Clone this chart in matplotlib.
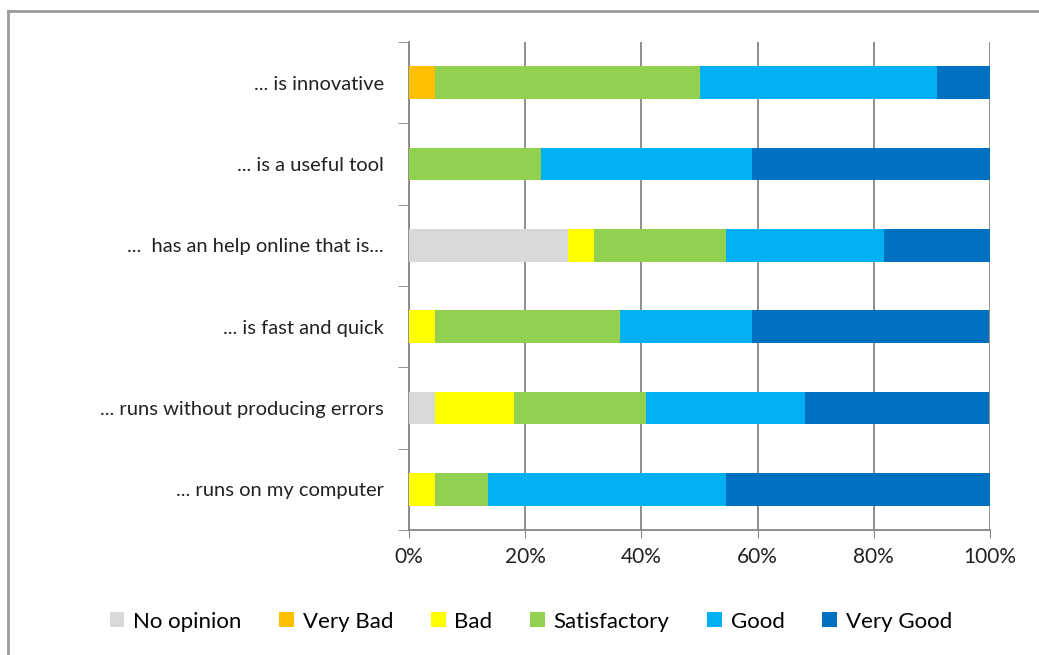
import matplotlib.pyplot as plt
import numpy as np

plt.rcParams['font.family'] = ['Lato', 'DejaVu Sans']

statements = ['... runs on my computer', '... runs without producing errors',
              '... is fast and quick', '...  has an help online that is...',
              '... is a useful tool', '... is innovative']
levels = ['No opinion', 'Very Bad', 'Bad', 'Satisfactory', 'Good', 'Very Good']
colors = ['#D9D9D9', '#FFC000', '#FFFF00', '#92D050', '#00B0F0', '#0070C0']

# share of answers (%) per level, rows in the same order as statements
no_opinion   = [0.0, 4.5, 0.0, 27.3, 0.0, 0.0]
very_bad     = [0.0, 0.0, 0.0, 0.0, 0.0, 4.5]
bad          = [4.5, 13.6, 4.5, 4.5, 0.0, 0.0]
satisfactory = [9.1, 22.7, 31.8, 22.7, 22.7, 45.5]
good         = [40.9, 27.3, 22.7, 27.3, 36.4, 40.9]
very_good    = [45.5, 31.8, 40.9, 18.2, 40.9, 9.1]
series = [no_opinion, very_bad, bad, satisfactory, good, very_good]

fig = plt.figure(figsize=(10.39, 6.55), dpi=100)
ax = fig.add_axes([0.3937, 0.1908, 0.5592, 0.7451])

y = np.arange(len(statements))
left = np.zeros(len(statements))
for name, vals, c in zip(levels, series, colors):
    vals = np.array(vals)
    ax.barh(y, vals, left=left, height=0.4, color=c, label=name, zorder=3)
    left += vals

ax.set_xlim(0, 100)
ax.set_ylim(-0.5, len(statements) - 0.5)
ax.set_xticks(np.arange(0, 101, 20))
ax.set_xticklabels([f'{v}%' for v in range(0, 101, 20)], fontsize=15, color='#222222')
ax.set_yticks(y)
ax.set_yticklabels(statements, fontsize=14.5, color='#222222')
ax.tick_params(axis='y', length=0, pad=18)
ax.tick_params(axis='x', length=6, color='#868686', pad=6)
# category separators on the value axis
ax.set_yticks(np.arange(-0.5, len(statements)), minor=True)
ax.tick_params(axis='y', which='minor', length=8, color='#868686')
ax.grid(axis='x', color='#868686', linewidth=1.3, zorder=0)

for s in ['top', 'right']:
    ax.spines[s].set_visible(False)
for s in ['left', 'bottom']:
    ax.spines[s].set_color('#868686')
    ax.spines[s].set_linewidth(1.3)

fig.legend(loc='center', bbox_to_anchor=(0.511, 0.051), ncol=6, frameon=False,
           fontsize=16, handlelength=0.65, handleheight=0.65, handletextpad=0.4,
           columnspacing=1.7)

# outer chart frame
fig.add_artist(plt.Line2D([0.008, 0.008], [0.0, 0.983], color='#9a9a9a', lw=2))
fig.add_artist(plt.Line2D([0.008, 1.0], [0.983, 0.983], color='#9a9a9a', lw=2))

fig.savefig('out.png', dpi=100)
